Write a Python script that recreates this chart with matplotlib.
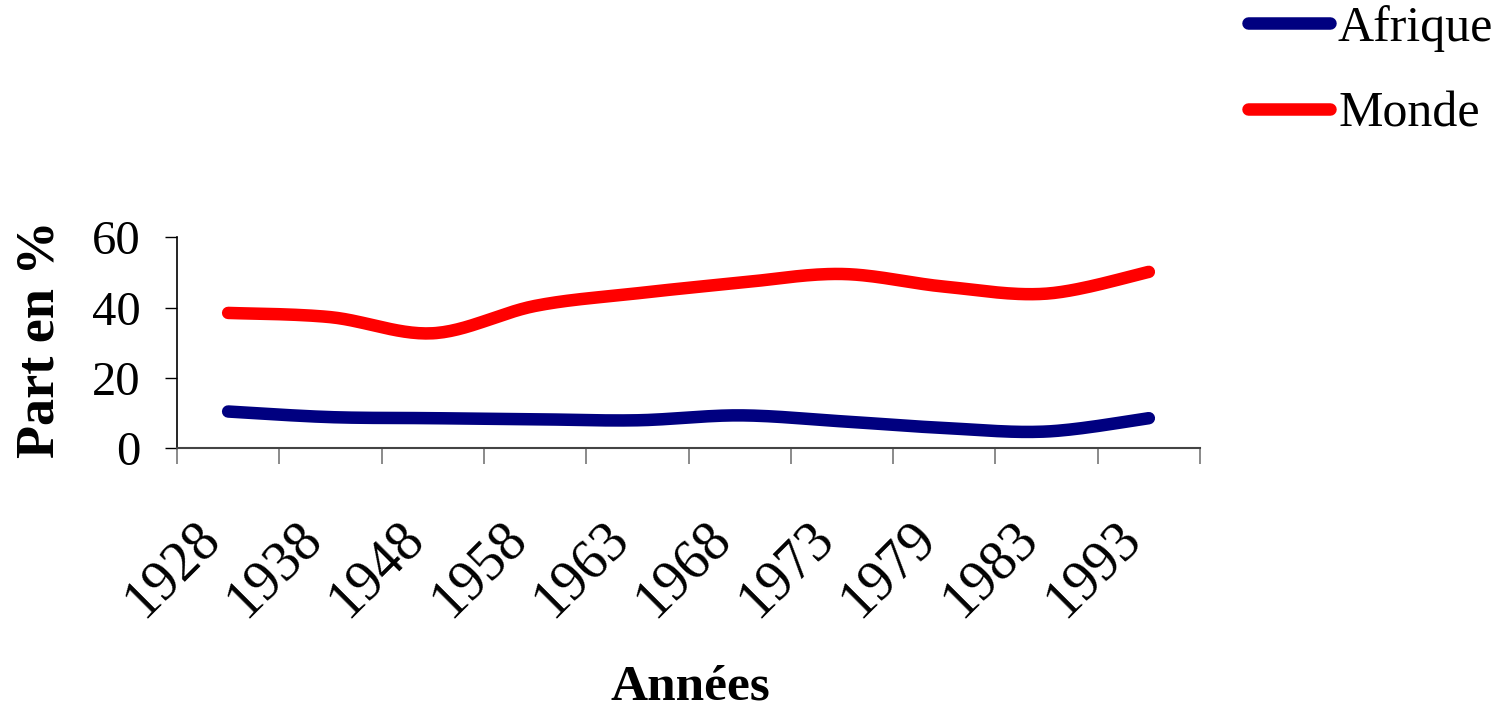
import numpy as np
import matplotlib
matplotlib.use('Agg')
import matplotlib.pyplot as plt
from matplotlib.transforms import ScaledTranslation

plt.rcParams['font.family'] = ['Liberation Serif', 'DejaVu Serif']

years = ['1928', '1938', '1948', '1958', '1963', '1968', '1973', '1979', '1983', '1993']
afrique = [10.4, 8.8, 8.5, 8.2, 7.9, 9.3, 7.6, 5.7, 4.7, 8.5]
monde = [38.5, 37.3, 32.7, 40.5, 44.1, 47.1, 49.6, 46.0, 44.0, 50.2]
y_ticks = [0, 20, 40, 60]


def smooth(xs, ys, n=30):
    """Excel-like smoothed line (cardinal Bezier through the points)."""
    p = np.column_stack([xs, ys]).astype(float)
    out = [p[0]]
    t = np.linspace(0, 1, n)[1:, None]
    for i in range(len(p) - 1):
        p0 = p[i - 1] if i > 0 else p[i]
        p1, p2 = p[i], p[i + 1]
        p3 = p[i + 2] if i + 2 < len(p) else p[i + 1]
        c1 = p1 + (p2 - p0) / 6.0
        c2 = p2 - (p3 - p1) / 6.0
        seg = ((1 - t) ** 3) * p1 + 3 * ((1 - t) ** 2) * t * c1 + 3 * (1 - t) * t ** 2 * c2 + t ** 3 * p2
        out.extend(seg)
    out = np.array(out)
    return out[:, 0], out[:, 1]


fig = plt.figure(figsize=(15.02, 7.12), dpi=100)
ax = fig.add_axes([177 / 1502, 1 - 448 / 712, (1200 - 177) / 1502, (448 - 237.5) / 712])

x = np.arange(len(years))
for vals, col, lab in [(afrique, '#000080', 'Afrique'), (monde, '#FF0000', 'Monde')]:
    sx, sy = smooth(x, vals)
    ax.plot(sx, sy, color=col, lw=9, solid_capstyle='round', label=lab)

ax.set_xlim(-0.5, len(years) - 0.5)
ax.set_ylim(0, 60)
ax.set_yticks(y_ticks)
ax.set_yticklabels([str(v) for v in y_ticks], fontsize=35)
ax.tick_params(axis='y', length=9, width=1, color='black', pad=17)

ax.set_xticks(np.arange(-0.5, len(years), 1.0))
ax.set_xticklabels([])
ax.tick_params(axis='x', which='major', length=11.5, width=1.2, color='#777777')
ax.set_xticks(x, minor=True)
ax.set_xticklabels(years, minor=True, fontsize=40, rotation=45, ha='right',
                   va='center', rotation_mode='anchor')
ax.tick_params(axis='x', which='minor', length=0, pad=59)
off = ScaledTranslation(-17 / 100, 0, fig.dpi_scale_trans)
for lbl in ax.get_xticklabels(minor=True):
    lbl.set_transform(lbl.get_transform() + off)

for s in ['top', 'right']:
    ax.spines[s].set_visible(False)
ax.spines['left'].set_color('black')
ax.spines['bottom'].set_color('#444444')
ax.spines['left'].set_linewidth(1.2)
ax.spines['bottom'].set_linewidth(1.5)

fig.text(41 / 1502, 1 - 339 / 712, 'Part en %', rotation=90, fontsize=39,
         fontweight='bold', ha='center', va='center')
fig.text(690 / 1502, 1 - 687 / 712, 'Années', fontsize=37, fontweight='bold',
         ha='center', va='center')

fig.legend(loc='upper left', bbox_to_anchor=(1248 / 1502, 1 - 5 / 712), frameon=False,
           fontsize=36, handlelength=1.64, handletextpad=0.16, labelspacing=0.78,
           borderpad=0.0, borderaxespad=0.0)

fig.savefig('out.png', dpi=100)
